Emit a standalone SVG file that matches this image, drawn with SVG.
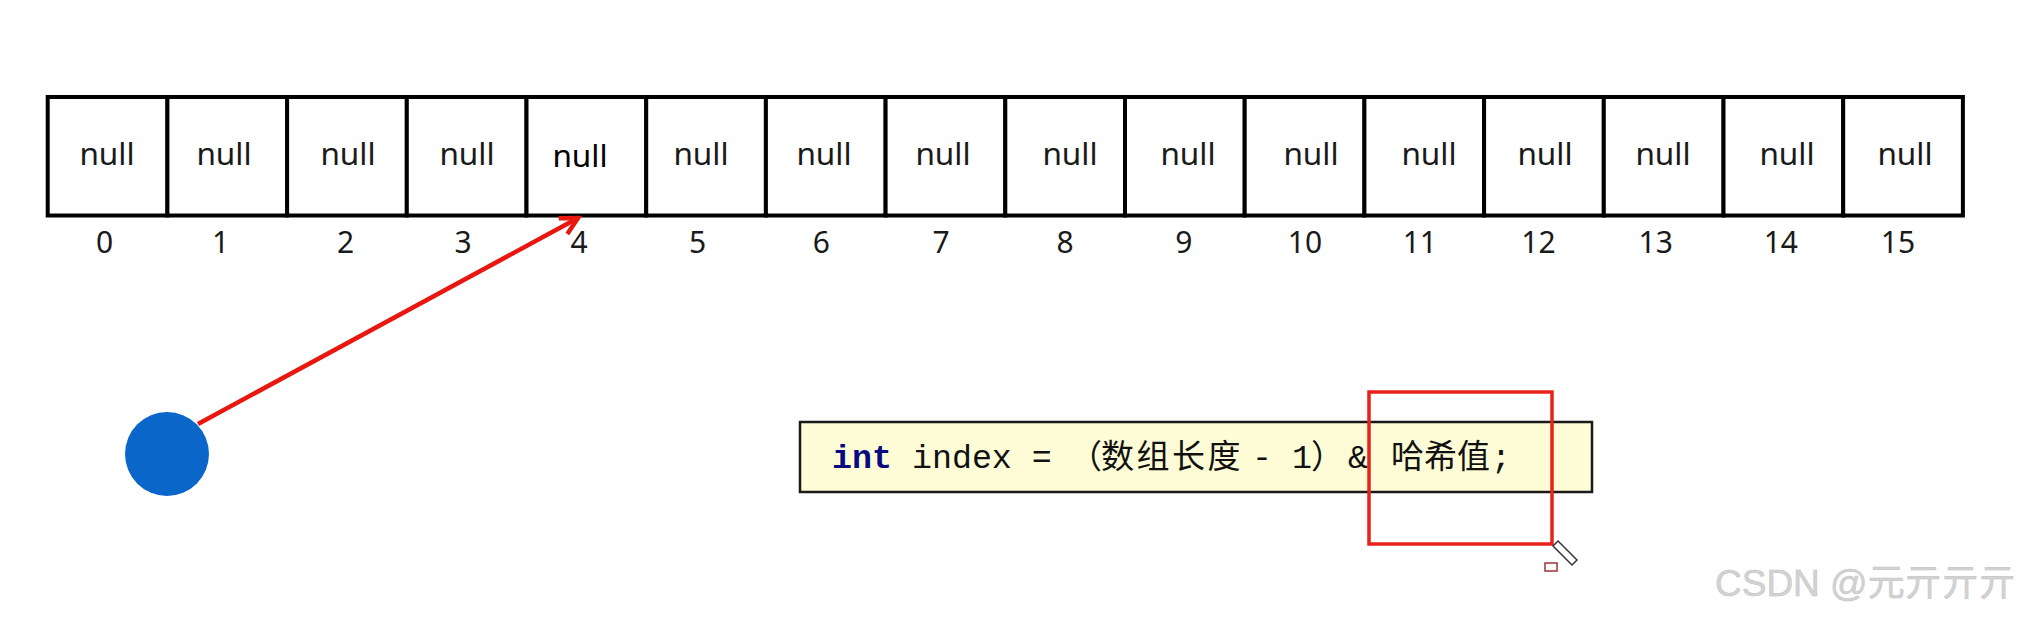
<svg xmlns="http://www.w3.org/2000/svg" width="2022" height="617" viewBox="0 0 2022 617">
<defs>
<style>
.cell{fill:#ffffff;stroke:#000000;stroke-width:4}
.nul{font-family:"Noto Sans","Open Sans",sans-serif;font-size:31.5px;fill:#1a1a1a;text-anchor:middle}
.idx{font-family:"Noto Sans","Open Sans",sans-serif;font-size:30px;fill:#1a1a1a;text-anchor:middle}
.code{font-family:"Liberation Mono",monospace;font-size:33.3px;fill:#111111}
.cjk{font-family:"Noto Sans CJK SC",sans-serif;font-size:33px;fill:#111111}
</style>
<marker id="arr" markerWidth="24" markerHeight="24" refX="20" refY="12" orient="auto" markerUnits="userSpaceOnUse" viewBox="0 0 24 24">
<path d="M3,3 L20,12 L3,21" fill="none" stroke="#e8170f" stroke-width="4.5" stroke-linejoin="miter"/>
</marker>
</defs>
<rect x="0" y="0" width="2022" height="617" fill="#ffffff"/>
<g id="array">
<rect class="cell" x="47.7" y="97" width="119.7" height="118.5"/>
<rect class="cell" x="167.4" y="97" width="119.7" height="118.5"/>
<rect class="cell" x="287.1" y="97" width="119.7" height="118.5"/>
<rect class="cell" x="406.8" y="97" width="119.7" height="118.5"/>
<rect class="cell" x="526.5" y="97" width="119.7" height="118.5"/>
<rect class="cell" x="646.2" y="97" width="119.7" height="118.5"/>
<rect class="cell" x="765.9" y="97" width="119.7" height="118.5"/>
<rect class="cell" x="885.6" y="97" width="119.7" height="118.5"/>
<rect class="cell" x="1005.3" y="97" width="119.7" height="118.5"/>
<rect class="cell" x="1125" y="97" width="119.7" height="118.5"/>
<rect class="cell" x="1244.7" y="97" width="119.7" height="118.5"/>
<rect class="cell" x="1364.4" y="97" width="119.7" height="118.5"/>
<rect class="cell" x="1484.1" y="97" width="119.7" height="118.5"/>
<rect class="cell" x="1603.8" y="97" width="119.7" height="118.5"/>
<rect class="cell" x="1723.5" y="97" width="119.7" height="118.5"/>
<rect class="cell" x="1843.2" y="97" width="119.7" height="118.5"/>
<text class="nul" x="107" y="165">null</text>
<text class="nul" x="224" y="165">null</text>
<text class="nul" x="348" y="165">null</text>
<text class="nul" x="467" y="165">null</text>
<text class="nul" x="580" y="167" style="fill:#000">null</text>
<text class="nul" x="701" y="165">null</text>
<text class="nul" x="824" y="165">null</text>
<text class="nul" x="943" y="165">null</text>
<text class="nul" x="1070" y="165">null</text>
<text class="nul" x="1188" y="165">null</text>
<text class="nul" x="1311" y="165">null</text>
<text class="nul" x="1429" y="165">null</text>
<text class="nul" x="1545" y="165">null</text>
<text class="nul" x="1663" y="165">null</text>
<text class="nul" x="1787" y="165">null</text>
<text class="nul" x="1905" y="165">null</text>
<text class="idx" x="104.5" y="253">0</text>
<text class="idx" x="220.5" y="253">1</text>
<text class="idx" x="345.6" y="253">2</text>
<text class="idx" x="463" y="253">3</text>
<text class="idx" x="579" y="253">4</text>
<text class="idx" x="697.6" y="253">5</text>
<text class="idx" x="821.4" y="253">6</text>
<text class="idx" x="941" y="253">7</text>
<text class="idx" x="1065" y="253">8</text>
<text class="idx" x="1183.8" y="253">9</text>
<text class="idx" x="1305" y="253">10</text>
<text class="idx" x="1419.8" y="253">11</text>
<text class="idx" x="1538.4" y="253">12</text>
<text class="idx" x="1655.7" y="253">13</text>
<text class="idx" x="1780.8" y="253">14</text>
<text class="idx" x="1898" y="253">15</text>
</g>
<g id="node-circle">
<circle cx="167" cy="454" r="42" fill="#0a66c8"/>
</g>
<g id="connectors">
<line x1="198" y1="424" x2="578" y2="218" stroke="#e8170f" stroke-width="4.5" marker-end="url(#arr)"/>
</g>
<g id="code-box">
<rect x="800" y="422" width="792" height="70" fill="#fdfcd6" stroke="#1a1a1a" stroke-width="2.5"/>
<text class="code" x="832" y="468"><tspan font-weight="bold" fill="#0a0a80">int</tspan> index =</text>
<text class="cjk" x="1069" y="468">（</text>
<text class="cjk" x="1101" y="468" letter-spacing="2.5">数组长度</text>
<text class="code" x="1252" y="468">-</text>
<text class="code" x="1292" y="468">1</text>
<text class="cjk" x="1311" y="468">）</text>
<text class="code" x="1348" y="468">&amp;</text>
<text class="cjk" x="1391" y="468">哈希值</text>
<text class="code" x="1491" y="468">;</text>
</g>
<g id="highlight">
<rect x="1369" y="392" width="183" height="152" fill="none" stroke="#e8221a" stroke-width="3.5"/>
<path d="M1553,546 L1572,565 L1577,560 L1558,541 Z" fill="#ffffff" stroke="#333333" stroke-width="1.5"/>
<rect x="1545" y="563" width="12" height="8" fill="#ffffff" stroke="#a0303a" stroke-width="1.5"/>
</g>
<text x="1715" y="596" font-family="Liberation Sans,'Noto Sans CJK SC',sans-serif" font-size="37" fill="#d2d2d2" stroke="#c4c4c4" stroke-width="0.5">CSDN @元亓亓亓</text>
</svg>
